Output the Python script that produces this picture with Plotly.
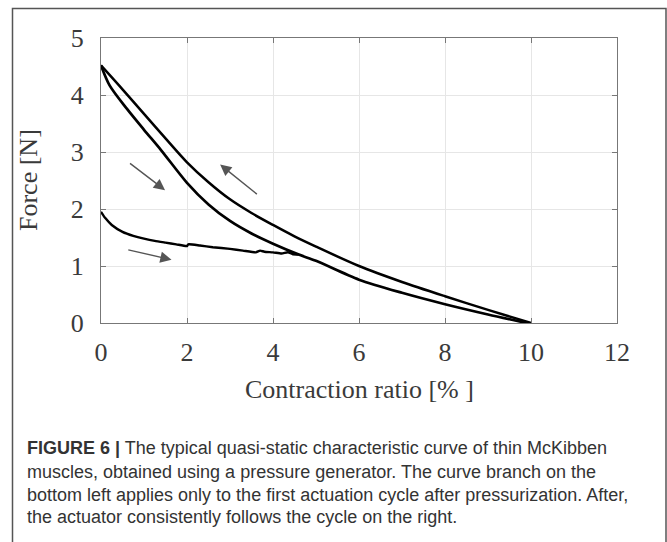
import plotly.graph_objects as go

# ---- data ----
upper_x = [0, 0.5, 1, 1.5, 2, 2.5, 3, 3.5, 4, 4.5, 5, 6, 7, 8, 9, 10]
upper_y = [4.52, 4.10, 3.67, 3.24, 2.82, 2.47, 2.17, 1.93, 1.72, 1.52, 1.34, 1.00, 0.72, 0.47, 0.23, 0.0]

lower_x = [0, 0.2, 0.6, 1, 1.4, 2, 2.5, 3, 3.5, 4, 4.6, 5, 6, 7, 8, 9, 9.9]
lower_y = [4.52, 4.17, 3.76, 3.39, 3.03, 2.46, 2.08, 1.79, 1.57, 1.39, 1.20, 1.09, 0.76, 0.53, 0.33, 0.15, 0.0]

first_x = [0, 0.1, 0.25, 0.5, 0.75, 1.0, 1.25, 1.5, 1.75, 2.0, 2.03, 2.3, 2.6, 3.0, 3.3, 3.6, 3.7, 3.8, 4.0, 4.2, 4.35, 4.45, 4.6]
first_y = [1.95, 1.84, 1.72, 1.60, 1.53, 1.48, 1.44, 1.41, 1.38, 1.35, 1.38, 1.36, 1.33, 1.30, 1.27, 1.24, 1.27, 1.25, 1.24, 1.22, 1.24, 1.21, 1.20]

# arrows: (x_tail, y_tail, x_head, y_head)
arrows = [
    (0.64, 2.82, 1.49, 2.33),
    (3.66, 2.24, 2.77, 2.78),
    (0.60, 1.29, 1.64, 1.11),
]

x_ticks = [0, 2, 4, 6, 8, 10, 12]
y_ticks = [0, 1, 2, 3, 4, 5]

x_title = "Contraction ratio [% ]"
y_title = "Force [N]"
caption_lines = [
    "<b>FIGURE 6 |</b> The typical quasi-static characteristic curve of thin McKibben",
    "muscles, obtained using a pressure generator. The curve branch on the",
    "bottom left applies only to the first actuation cycle after pressurization. After,",
    "the actuator consistently follows the cycle on the right.",
]

# ---- layout geometry (pixels) ----
W, H = 667, 542
L, R, T, B = 101, 617, 38, 323
pw, ph = R - L, B - T


def px(xp):
    return (xp - L) / pw


def py(yp):
    return (B - yp) / ph


fig = go.Figure()
fig.add_trace(go.Scatter(x=upper_x, y=upper_y, mode="lines",
                         line=dict(color="black", width=2.5, shape="spline", smoothing=0.8), hoverinfo="skip"))
fig.add_trace(go.Scatter(x=lower_x, y=lower_y, mode="lines",
                         line=dict(color="black", width=2.7, shape="spline", smoothing=0.8), hoverinfo="skip"))
fig.add_trace(go.Scatter(x=first_x, y=first_y, mode="lines",
                         line=dict(color="black", width=2.4, shape="spline", smoothing=0.5), hoverinfo="skip"))

annotations = []
for (xt, yt, xh, yh) in arrows:
    annotations.append(dict(
        x=xh, y=yh, ax=xt, ay=yt, xref="x", yref="y", axref="x", ayref="y",
        text="", showarrow=True, arrowhead=2, arrowsize=1.6, arrowwidth=1.4,
        arrowcolor="#555555",
    ))

serif = "Liberation Serif, Times New Roman, serif"
annotations.append(dict(
    x=px(359), y=py(389), xref="paper", yref="paper", text=x_title,
    showarrow=False, xanchor="center", yanchor="middle",
    font=dict(family=serif, size=26, color="#3a3a3a"),
))
annotations.append(dict(
    x=px(28), y=py(180), xref="paper", yref="paper", text=y_title,
    showarrow=False, xanchor="center", yanchor="middle", textangle=-90,
    font=dict(family=serif, size=26, color="#3a3a3a"),
))

cap_y = [448, 472, 495, 517]
for txt, yy in zip(caption_lines, cap_y):
    annotations.append(dict(
        x=px(25), y=py(yy), xref="paper", yref="paper", text=txt,
        showarrow=False, xanchor="left", yanchor="middle",
        font=dict(family="Liberation Sans, Arial, sans-serif", size=18, color="#333333"),
    ))

shapes = [
    dict(type="path", xref="paper", yref="paper",
         path=f"M {px(12.5)} {py(560)} L {px(12.5)} {py(8.5)} L {px(666)} {py(8.5)} L {px(666)} {py(560)}",
         line=dict(color="#555555", width=1.5)),
]

axis_common = dict(
    showline=True, linecolor="#777777", linewidth=1, mirror="ticks",
    ticks="inside", ticklen=5, tickcolor="#777777", tickwidth=1,
    showgrid=True, gridcolor="#e6e6e6", gridwidth=1, zeroline=False,
    tickfont=dict(family=serif, size=26, color="#3a3a3a"),
)

fig.update_layout(
    width=W, height=H,
    margin=dict(l=L, r=W - R, t=T, b=H - B, pad=0),
    paper_bgcolor="white", plot_bgcolor="white",
    showlegend=False,
    xaxis=dict(range=[0, 12], tickvals=x_ticks, ticktext=[str(v) for v in x_ticks],
               ticklabelstandoff=6, **axis_common),
    yaxis=dict(range=[0, 5], tickvals=y_ticks, ticktext=[str(v) for v in y_ticks],
               ticklabelstandoff=11, **axis_common),
    annotations=annotations,
    shapes=shapes,
)

fig.write_html("out.html")
